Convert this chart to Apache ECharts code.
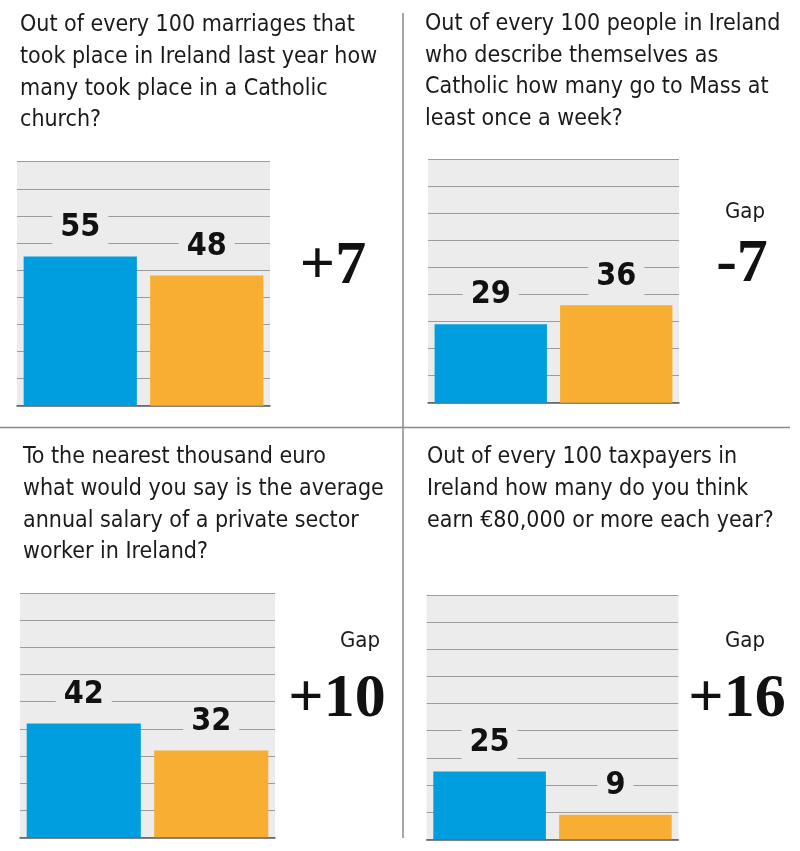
<!DOCTYPE html>
<html>
<head>
<meta charset="utf-8">
<script src="https://cdn.jsdelivr.net/npm/echarts@6/dist/echarts.min.js"></script>
<style>
  html, body { margin: 0; padding: 0; background: #ffffff; }
  #chart { width: 800px; height: 851px; }
</style>
</head>
<body>
<div id="chart"></div>
<script>
// ---- data ----
const categories = ['Guess', 'Actual'];
const marriagesValues = [55, 48];
const massValues = [29, 36];
const salaryValues = [42, 32];
const taxpayersValues = [25, 9];

const titleMarriages = 'Out of every 100 marriages that\ntook place in Ireland last year how\nmany took place in a Catholic\nchurch?';
const titleMass = 'Out of every 100 people in Ireland\nwho describe themselves as\nCatholic how many go to Mass at\nleast once a week?';
const titleSalary = 'To the nearest thousand euro\nwhat would you say is the average\nannual salary of a private sector\nworker in Ireland?';
const titleTaxpayers = 'Out of every 100 taxpayers in\nIreland how many do you think\nearn €80,000 or more each year?';

const gapLabel = 'Gap';
const axisMax = 90;
const axisStep = 10;

// ---- styling / layout ----
const barColors = ['#009ddf', '#f7ae33'];
const plotBg = '#ececec';
const sansFont = '"DejaVu Sans Condensed", "Roboto", sans-serif';
const labelFont = '"DejaVu Sans Condensed", "Roboto", sans-serif';
const serifFont = '"Liberation Serif", "DejaVu Serif", serif';

const panels = [
  { values: marriagesValues, title: titleMarriages, tx: 20, ty: 9.5,
    grid: { left: 17, top: 161.7, width: 253, height: 244 },
    gapX: 333, gapY: 267, showGapWord: false, gapWordX: 0, gapWordY: 0 },
  { values: massValues, title: titleMass, tx: 425, ty: 8,
    grid: { left: 428, top: 159, width: 251, height: 243.7 },
    gapX: 742, gapY: 265, showGapWord: true, gapWordX: 745, gapWordY: 212 },
  { values: salaryValues, title: titleSalary, tx: 23, ty: 441.3,
    grid: { left: 20, top: 593.3, width: 255, height: 244 },
    gapX: 337, gapY: 700, showGapWord: true, gapWordX: 360, gapWordY: 641 },
  { values: taxpayersValues, title: titleTaxpayers, tx: 427, ty: 441.3,
    grid: { left: 426.7, top: 595, width: 251.6, height: 244.3 },
    gapX: 737, gapY: 700, showGapWord: true, gapWordX: 745, gapWordY: 641 }
];

function fmtGap(v) { return (v > 0 ? '+' : (v < 0 ? '-' : '')) + Math.abs(v); }

const grids = [], xAxes = [], yAxes = [], series = [], titles = [], graphics = [];

panels.forEach((p, i) => {
  grids.push(Object.assign({ show: true, backgroundColor: plotBg, borderWidth: 0, containLabel: false }, p.grid));
  xAxes.push({
    type: 'category', gridIndex: i, data: categories,
    axisLine: { show: true, lineStyle: { color: '#5a5a5a', width: 1.5 } },
    axisTick: { show: false }, axisLabel: { show: false }, splitLine: { show: false }
  });
  yAxes.push({
    type: 'value', gridIndex: i, min: 0, max: axisMax, interval: axisStep,
    axisLine: { show: false }, axisTick: { show: false }, axisLabel: { show: false },
    splitLine: { show: true, lineStyle: { color: '#9c9c9c', width: 1.2 } }
  });
  series.push({
    type: 'bar', xAxisIndex: i, yAxisIndex: i,
    data: p.values.map((v, j) => ({ value: v, itemStyle: { color: barColors[j] } })),
    barCategoryGap: '10.5%',
    label: {
      show: true, position: 'top', distance: 10,
      fontFamily: labelFont, fontWeight: 'bold', fontSize: 32, lineHeight: 30,
      color: '#111111', backgroundColor: plotBg, padding: [4, 8]
    },
    emphasis: { disabled: true },
    animation: false
  });
  titles.push({
    text: p.title, left: p.tx, top: p.ty, padding: 0,
    textStyle: { fontFamily: sansFont, fontWeight: 'normal', fontSize: 23, lineHeight: 31.7, color: '#1a1a1a' }
  });
  const gap = p.values[0] - p.values[1];
  graphics.push({
    type: 'text', x: p.gapX, y: p.gapY, silent: true,
    style: { text: fmtGap(gap), font: 'bold 62px ' + serifFont, fill: '#111111', align: 'center', verticalAlign: 'middle' }
  });
  if (p.showGapWord) {
    graphics.push({
      type: 'text', x: p.gapWordX, y: p.gapWordY, silent: true,
      style: { text: gapLabel, font: 'normal 22px ' + sansFont, fill: '#1a1a1a', align: 'center', verticalAlign: 'middle' }
    });
  }
});

// dividers
graphics.push({ type: 'line', silent: true, shape: { x1: 403, y1: 13, x2: 403, y2: 838 }, style: { stroke: '#8a8a8a', lineWidth: 1.5 } });
graphics.push({ type: 'line', silent: true, shape: { x1: 0, y1: 427.5, x2: 790, y2: 427.5 }, style: { stroke: '#8a8a8a', lineWidth: 1.5 } });

const chart = echarts.init(document.getElementById('chart'), null, { renderer: 'canvas' });
chart.setOption({
  animation: false,
  backgroundColor: '#ffffff',
  title: titles,
  grid: grids,
  xAxis: xAxes,
  yAxis: yAxes,
  series: series,
  graphic: graphics
});
</script>
</body>
</html>
